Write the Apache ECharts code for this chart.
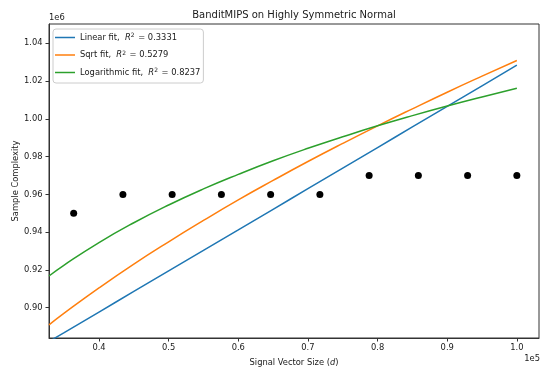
<!DOCTYPE html>
<html>
<head>
<meta charset="utf-8">
<script src="https://cdn.jsdelivr.net/npm/echarts@6/dist/echarts.min.js"></script>
<style>html,body{margin:0;padding:0;background:#fff}#c{width:540px;height:368px}</style>
</head>
<body>
<div id="c"></div>
<script>
// Observed data points
const pointX = [36364, 43434, 50505, 57576, 64646, 71717, 78788, 85859, 92929, 100000];
const pointY = [950000, 960000, 960000, 960000, 960000, 960000, 970000, 970000, 970000, 970000];
// Fit curves
const fitX   = [32820, 35000, 40000, 45000, 50000, 55000, 60000, 65000, 70000, 75000, 80000, 85000, 90000, 95000, 100000];
const linY   = [882100, 886800, 897700, 908600, 919500, 930400, 941200, 952100, 963000, 973900, 984800, 995700, 1006600, 1017500, 1028400];
const sqrtY  = [890900, 897100, 910500, 923100, 934900, 946200, 957100, 967400, 977400, 987000, 996300, 1005300, 1014100, 1022600, 1030900];
const logY   = [916800, 922600, 934500, 945000, 954400, 962900, 970600, 977800, 984400, 990500, 996300, 1001700, 1006800, 1011600, 1016200];
const fitNames = ['Linear fit', 'Sqrt fit', 'Logarithmic fit'];
const fitR2 = ['0.3331', '0.5279', '0.8237'];
const xTicks = [40000, 50000, 60000, 70000, 80000, 90000, 100000];
const yTicks = [900000, 920000, 940000, 960000, 980000, 1000000, 1020000, 1040000];

const colors = ['#1f77b4', '#ff7f0e', '#2ca02c'];
const fitYs = [linY, sqrtY, logY];
const FONT = 'DejaVu Sans';
const FS = 8.33;
const TXT = '#1a1a1a';

const chart = echarts.init(document.getElementById('c'), null, {renderer: 'canvas'});
const lineSeries = fitNames.map((n, i) => ({
  name: n,
  type: 'line',
  data: fitX.map((x, j) => [x, fitYs[i][j]]),
  smooth: true,
  symbol: 'none',
  lineStyle: {color: colors[i], width: 1.5},
  itemStyle: {color: colors[i]},
  clip: true,
  z: 2
}));

chart.setOption({
  animation: false,
  textStyle: {fontFamily: FONT},
  title: {
    text: 'BanditMIPS on Highly Symmetric Normal',
    left: 294, top: 10, textAlign: 'center', padding: 0,
    textStyle: {fontFamily: FONT, fontSize: 10, fontWeight: 'normal', color: TXT}
  },
  grid: {left: 49, right: 1, top: 24, bottom: 30, outerBoundsMode: 'none', containLabel: false,
    show: true, borderColor: '#333', borderWidth: 1, backgroundColor: 'transparent'},
  legend: {
    orient: 'vertical', left: 53, top: 29,
    data: fitNames.map(n => ({name: n, icon: 'rect'})),
    itemWidth: 20, itemHeight: 1.5, itemGap: 7.5,
    padding: [3.5, 3, 5.5, 2],
    borderColor: '#ccc', borderWidth: 1, borderRadius: 3,
    backgroundColor: 'rgba(255,255,255,0.8)',
    formatter: function (name) {
      const i = fitNames.indexOf(name);
      return '{n|' + name + ',  }{i|R}{s|2}{n| = ' + fitR2[i] + '}';
    },
    textStyle: {
      fontFamily: FONT, fontSize: FS, color: TXT, lineHeight: 10,
      rich: {
        n: {fontFamily: FONT, fontSize: FS, color: TXT, lineHeight: 10},
        i: {fontFamily: FONT, fontSize: FS, fontStyle: 'italic', color: TXT, lineHeight: 10},
        s: {fontFamily: FONT, fontSize: 6, color: TXT, verticalAlign: 'top', lineHeight: 10, padding: [0, 1, 4, 0]}
      }
    }
  },
  xAxis: {
    type: 'value', min: 32820, max: 103180,
    name: '{n|Signal Vector Size (}{i|d}{n|)}',
    nameLocation: 'middle', nameGap: 21, nameMoveOverlap: false,
    nameTextStyle: {
      rich: {
        n: {fontFamily: FONT, fontSize: FS, color: TXT},
        i: {fontFamily: FONT, fontSize: FS, fontStyle: 'italic', color: TXT}
      }
    },
    axisLine: {show: true, onZero: false, lineStyle: {color: '#333', width: 1}},
    axisTick: {show: true, length: 3.5, lineStyle: {color: '#333'}, customValues: xTicks},
    axisLabel: {show: true, margin: 6, fontSize: FS, color: TXT, fontFamily: FONT,
      customValues: xTicks, formatter: v => (v / 1e5).toFixed(1)},
    splitLine: {show: false}
  },
  yAxis: {
    type: 'value', min: 883960, max: 1050220,
    name: 'Sample Complexity', nameLocation: 'middle', nameGap: 29, nameMoveOverlap: false,
    nameTextStyle: {fontFamily: FONT, fontSize: FS, color: TXT},
    axisLine: {show: true, onZero: false, lineStyle: {color: '#333', width: 1}},
    axisTick: {show: true, length: 3.5, lineStyle: {color: '#333'}, customValues: yTicks},
    axisLabel: {show: true, margin: 6.5, fontSize: FS, color: TXT, fontFamily: FONT,
      customValues: yTicks, formatter: v => (v / 1e6).toFixed(2)},
    splitLine: {show: false}
  },
  graphic: [
    {type: 'text', left: 49, top: 14, style: {text: '1e6', fontFamily: FONT, fontSize: FS, fill: TXT}},
    {type: 'text', right: 0, top: 355, style: {text: '1e5', fontFamily: FONT, fontSize: FS, fill: TXT}}
  ],
  series: lineSeries.concat([{
    name: 'points',
    type: 'scatter',
    data: pointX.map((x, j) => [x, pointY[j]]),
    symbol: 'circle', symbolSize: 7,
    itemStyle: {color: '#000', opacity: 1},
    z: 3
  }])
});
</script>
</body>
</html>
